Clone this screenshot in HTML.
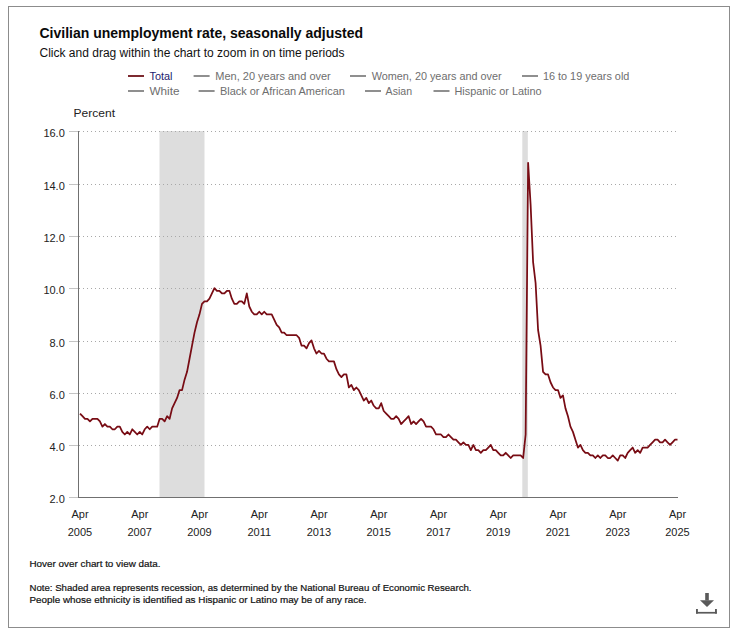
<!DOCTYPE html>
<html><head><meta charset="utf-8"><style>
html,body{margin:0;padding:0;width:735px;height:630px;overflow:hidden;background:#fff;font-family:"Liberation Sans", sans-serif;}
</style></head><body>
<svg width="735" height="630" viewBox="0 0 735 630" style="position:absolute;left:0;top:0" font-family='"Liberation Sans", sans-serif'><rect x="0" y="0" width="735" height="630" fill="#fff"/><rect x="8.5" y="6.5" width="721" height="621" fill="none" stroke="#8c8c8c" stroke-width="1"/><text x="39.5" y="37.7" font-size="14" font-weight="bold" fill="#0a0a0a" textLength="323.5" lengthAdjust="spacingAndGlyphs">Civilian unemployment rate, seasonally adjusted</text><text x="39.5" y="56.7" font-size="12.5" fill="#111" textLength="305" lengthAdjust="spacingAndGlyphs">Click and drag within the chart to zoom in on time periods</text><rect x="128" y="75" width="16" height="2" fill="#7d2a30"/><text x="149.5" y="80.2" font-size="11" fill="#1c1c6e" textLength="23" lengthAdjust="spacingAndGlyphs">Total</text><rect x="193.6" y="75" width="16" height="2" fill="#8f8f8f"/><text x="215.3" y="80.2" font-size="11" fill="#6e6e6e" textLength="115.5" lengthAdjust="spacingAndGlyphs">Men, 20 years and over</text><rect x="350" y="75" width="16" height="2" fill="#8f8f8f"/><text x="371.7" y="80.2" font-size="11" fill="#6e6e6e" textLength="130" lengthAdjust="spacingAndGlyphs">Women, 20 years and over</text><rect x="522" y="75" width="16" height="2" fill="#8f8f8f"/><text x="542.9" y="80.2" font-size="11" fill="#6e6e6e" textLength="86.5" lengthAdjust="spacingAndGlyphs">16 to 19 years old</text><rect x="128" y="90" width="16" height="2" fill="#8f8f8f"/><text x="149.5" y="95.2" font-size="11" fill="#6e6e6e" textLength="30" lengthAdjust="spacingAndGlyphs">White</text><rect x="198.6" y="90" width="16" height="2" fill="#8f8f8f"/><text x="219.9" y="95.2" font-size="11" fill="#6e6e6e" textLength="125" lengthAdjust="spacingAndGlyphs">Black or African American</text><rect x="365" y="90" width="16" height="2" fill="#8f8f8f"/><text x="385.6" y="95.2" font-size="11" fill="#6e6e6e" textLength="26.5" lengthAdjust="spacingAndGlyphs">Asian</text><rect x="433.5" y="90" width="16" height="2" fill="#8f8f8f"/><text x="454.5" y="95.2" font-size="11" fill="#6e6e6e" textLength="87" lengthAdjust="spacingAndGlyphs">Hispanic or Latino</text><text x="73.5" y="117" font-size="11" fill="#222" textLength="41.5" lengthAdjust="spacingAndGlyphs">Percent</text><rect x="159.5" y="131" width="45" height="366" fill="#dddddd"/><rect x="522.3" y="131" width="5.5" height="366" fill="#dddddd"/><line x1="79" y1="131.5" x2="678" y2="131.5" stroke="#a8a8a8" stroke-width="1" stroke-dasharray="1,3"/><line x1="79" y1="184.5" x2="678" y2="184.5" stroke="#a8a8a8" stroke-width="1" stroke-dasharray="1,3"/><line x1="79" y1="236.5" x2="678" y2="236.5" stroke="#a8a8a8" stroke-width="1" stroke-dasharray="1,3"/><line x1="79" y1="288.5" x2="678" y2="288.5" stroke="#a8a8a8" stroke-width="1" stroke-dasharray="1,3"/><line x1="79" y1="341.5" x2="678" y2="341.5" stroke="#a8a8a8" stroke-width="1" stroke-dasharray="1,3"/><line x1="79" y1="393.5" x2="678" y2="393.5" stroke="#a8a8a8" stroke-width="1" stroke-dasharray="1,3"/><line x1="79" y1="445.5" x2="678" y2="445.5" stroke="#a8a8a8" stroke-width="1" stroke-dasharray="1,3"/><line x1="69" y1="131.5" x2="78" y2="131.5" stroke="#c4c4c4" stroke-width="1"/><line x1="69" y1="184.5" x2="78" y2="184.5" stroke="#c4c4c4" stroke-width="1"/><line x1="69" y1="236.5" x2="78" y2="236.5" stroke="#c4c4c4" stroke-width="1"/><line x1="69" y1="288.5" x2="78" y2="288.5" stroke="#c4c4c4" stroke-width="1"/><line x1="69" y1="341.5" x2="78" y2="341.5" stroke="#c4c4c4" stroke-width="1"/><line x1="69" y1="393.5" x2="78" y2="393.5" stroke="#c4c4c4" stroke-width="1"/><line x1="69" y1="445.5" x2="78" y2="445.5" stroke="#c4c4c4" stroke-width="1"/><line x1="69" y1="497.5" x2="78" y2="497.5" stroke="#c4c4c4" stroke-width="1"/><text x="64.8" y="136.5" font-size="11" fill="#222" text-anchor="end">16.0</text><text x="64.8" y="189.5" font-size="11" fill="#222" text-anchor="end">14.0</text><text x="64.8" y="241.5" font-size="11" fill="#222" text-anchor="end">12.0</text><text x="64.8" y="293.5" font-size="11" fill="#222" text-anchor="end">10.0</text><text x="64.8" y="346.5" font-size="11" fill="#222" text-anchor="end">8.0</text><text x="64.8" y="398.5" font-size="11" fill="#222" text-anchor="end">6.0</text><text x="64.8" y="450.5" font-size="11" fill="#222" text-anchor="end">4.0</text><text x="64.8" y="502.5" font-size="11" fill="#222" text-anchor="end">2.0</text><line x1="78.5" y1="131" x2="78.5" y2="497" stroke="#707070" stroke-width="1"/><line x1="78" y1="497.5" x2="678" y2="497.5" stroke="#707070" stroke-width="1"/><polyline points="80.00,413.60 82.49,416.21 84.98,418.82 87.47,418.82 89.96,421.43 92.45,418.82 94.94,418.82 97.43,418.82 99.92,421.43 102.41,426.66 104.90,424.04 107.39,426.66 109.88,426.66 112.36,429.27 114.85,429.27 117.34,426.66 119.83,426.66 122.32,431.88 124.81,434.49 127.30,431.88 129.79,434.49 132.28,429.27 134.77,431.88 137.26,434.49 139.75,431.88 142.24,434.49 144.73,429.27 147.22,426.66 149.71,429.27 152.20,426.66 154.69,426.66 157.18,426.66 159.67,418.82 162.16,418.82 164.65,421.43 167.14,416.21 169.62,418.82 172.11,408.37 174.60,403.15 177.09,397.92 179.58,390.09 182.07,390.09 184.56,379.64 187.05,371.80 189.54,358.74 192.03,345.68 194.52,332.62 197.01,322.18 199.50,314.34 201.99,303.89 204.48,301.28 206.97,301.28 209.46,298.67 211.95,293.44 214.44,288.22 216.93,290.83 219.42,290.83 221.91,293.44 224.40,293.44 226.89,290.83 229.38,290.83 231.86,298.67 234.35,303.89 236.84,303.89 239.33,301.28 241.82,301.28 244.31,303.89 246.80,293.44 249.29,306.50 251.78,311.73 254.27,314.34 256.76,314.34 259.25,311.73 261.74,314.34 264.23,311.73 266.72,314.34 269.21,314.34 271.70,314.34 274.19,319.56 276.68,324.79 279.17,327.40 281.66,332.62 284.15,332.62 286.64,335.24 289.12,335.24 291.61,335.24 294.10,335.24 296.59,335.24 299.08,337.85 301.57,345.68 304.06,345.68 306.55,348.30 309.04,343.07 311.53,340.46 314.02,348.30 316.51,353.52 319.00,350.91 321.49,353.52 323.98,353.52 326.47,358.74 328.96,361.36 331.45,361.36 333.94,361.36 336.43,369.19 338.92,374.42 341.41,377.03 343.90,374.42 346.39,374.42 348.88,387.48 351.36,384.86 353.85,390.09 356.34,387.48 358.83,390.09 361.32,395.31 363.81,400.54 366.30,397.92 368.79,403.15 371.28,400.54 373.77,405.76 376.26,408.37 378.75,408.37 381.24,403.15 383.73,410.98 386.22,413.60 388.71,416.21 391.20,418.82 393.69,418.82 396.18,416.21 398.67,418.82 401.16,424.04 403.65,421.43 406.14,418.82 408.62,416.21 411.11,424.04 413.60,421.43 416.09,424.04 418.58,421.43 421.07,418.82 423.56,421.43 426.05,426.66 428.54,426.66 431.03,426.66 433.52,429.27 436.01,434.49 438.50,434.49 440.99,434.49 443.48,437.10 445.97,437.10 448.46,434.49 450.95,437.10 453.44,439.72 455.93,439.72 458.42,442.33 460.91,444.94 463.40,442.33 465.89,444.94 468.38,444.94 470.86,450.16 473.35,444.94 475.84,450.16 478.33,450.16 480.82,452.78 483.31,450.16 485.80,450.16 488.29,447.55 490.78,444.94 493.27,450.16 495.76,450.16 498.25,452.78 500.74,455.39 503.23,455.39 505.72,452.78 508.21,455.39 510.70,458.00 513.19,455.39 515.68,455.39 518.17,455.39 520.66,455.39 523.15,458.00 525.64,434.49 528.12,162.84 530.61,204.64 533.10,262.10 535.59,283.00 538.08,330.01 540.57,345.68 543.06,371.80 545.55,374.42 548.04,374.42 550.53,382.25 553.02,387.48 555.51,390.09 558.00,390.09 560.49,397.92 562.98,395.31 565.47,408.37 567.96,416.21 570.45,426.66 572.94,431.88 575.43,439.72 577.92,447.55 580.41,444.94 582.90,450.16 585.39,452.78 587.88,452.78 590.36,455.39 592.85,455.39 595.34,458.00 597.83,455.39 600.32,458.00 602.81,455.39 605.30,455.39 607.79,458.00 610.28,458.00 612.77,455.39 615.26,458.00 617.75,460.61 620.24,455.39 622.73,455.39 625.22,458.00 627.71,452.78 630.20,450.16 632.69,447.55 635.18,452.78 637.67,450.16 640.16,452.78 642.65,447.55 645.14,447.55 647.62,447.55 650.11,444.94 652.60,442.33 655.09,439.72 657.58,439.72 660.07,442.33 662.56,442.33 665.05,439.72 667.54,442.33 670.03,444.94 672.52,442.33 675.01,439.72 677.50,439.72" fill="none" stroke="#780c14" stroke-width="1.75" stroke-linejoin="round" stroke-linecap="butt"/><text x="80.00" y="518" font-size="11" fill="#222" text-anchor="middle">Apr</text><text x="80.00" y="536" font-size="11" fill="#222" text-anchor="middle">2005</text><text x="139.75" y="518" font-size="11" fill="#222" text-anchor="middle">Apr</text><text x="139.75" y="536" font-size="11" fill="#222" text-anchor="middle">2007</text><text x="199.50" y="518" font-size="11" fill="#222" text-anchor="middle">Apr</text><text x="199.50" y="536" font-size="11" fill="#222" text-anchor="middle">2009</text><text x="259.25" y="518" font-size="11" fill="#222" text-anchor="middle">Apr</text><text x="259.25" y="536" font-size="11" fill="#222" text-anchor="middle">2011</text><text x="319.00" y="518" font-size="11" fill="#222" text-anchor="middle">Apr</text><text x="319.00" y="536" font-size="11" fill="#222" text-anchor="middle">2013</text><text x="378.75" y="518" font-size="11" fill="#222" text-anchor="middle">Apr</text><text x="378.75" y="536" font-size="11" fill="#222" text-anchor="middle">2015</text><text x="438.50" y="518" font-size="11" fill="#222" text-anchor="middle">Apr</text><text x="438.50" y="536" font-size="11" fill="#222" text-anchor="middle">2017</text><text x="498.25" y="518" font-size="11" fill="#222" text-anchor="middle">Apr</text><text x="498.25" y="536" font-size="11" fill="#222" text-anchor="middle">2019</text><text x="558.00" y="518" font-size="11" fill="#222" text-anchor="middle">Apr</text><text x="558.00" y="536" font-size="11" fill="#222" text-anchor="middle">2021</text><text x="617.75" y="518" font-size="11" fill="#222" text-anchor="middle">Apr</text><text x="617.75" y="536" font-size="11" fill="#222" text-anchor="middle">2023</text><text x="677.50" y="518" font-size="11" fill="#222" text-anchor="middle">Apr</text><text x="677.50" y="536" font-size="11" fill="#222" text-anchor="middle">2025</text><text x="29.5" y="566.8" font-size="9.6" fill="#111" stroke="#111" stroke-width="0.2" textLength="131" lengthAdjust="spacingAndGlyphs">Hover over chart to view data.</text><text x="29.5" y="590.9" font-size="9.6" fill="#111" stroke="#111" stroke-width="0.2" textLength="442" lengthAdjust="spacingAndGlyphs">Note: Shaded area represents recession, as determined by the National Bureau of Economic Research.</text><text x="29.5" y="602.9" font-size="9.6" fill="#111" stroke="#111" stroke-width="0.2" textLength="337" lengthAdjust="spacingAndGlyphs">People whose ethnicity is identified as Hispanic or Latino may be of any race.</text><g fill="#5a5a5a"><rect x="705.2" y="593" width="3.6" height="7.5"/><polygon points="700,600.2 714,600.2 707,607"/><rect x="696" y="609" width="1.9" height="4.6"/><rect x="715" y="609" width="1.9" height="4.6"/><rect x="696" y="611.9" width="20.9" height="1.7"/></g></svg>
</body></html>
